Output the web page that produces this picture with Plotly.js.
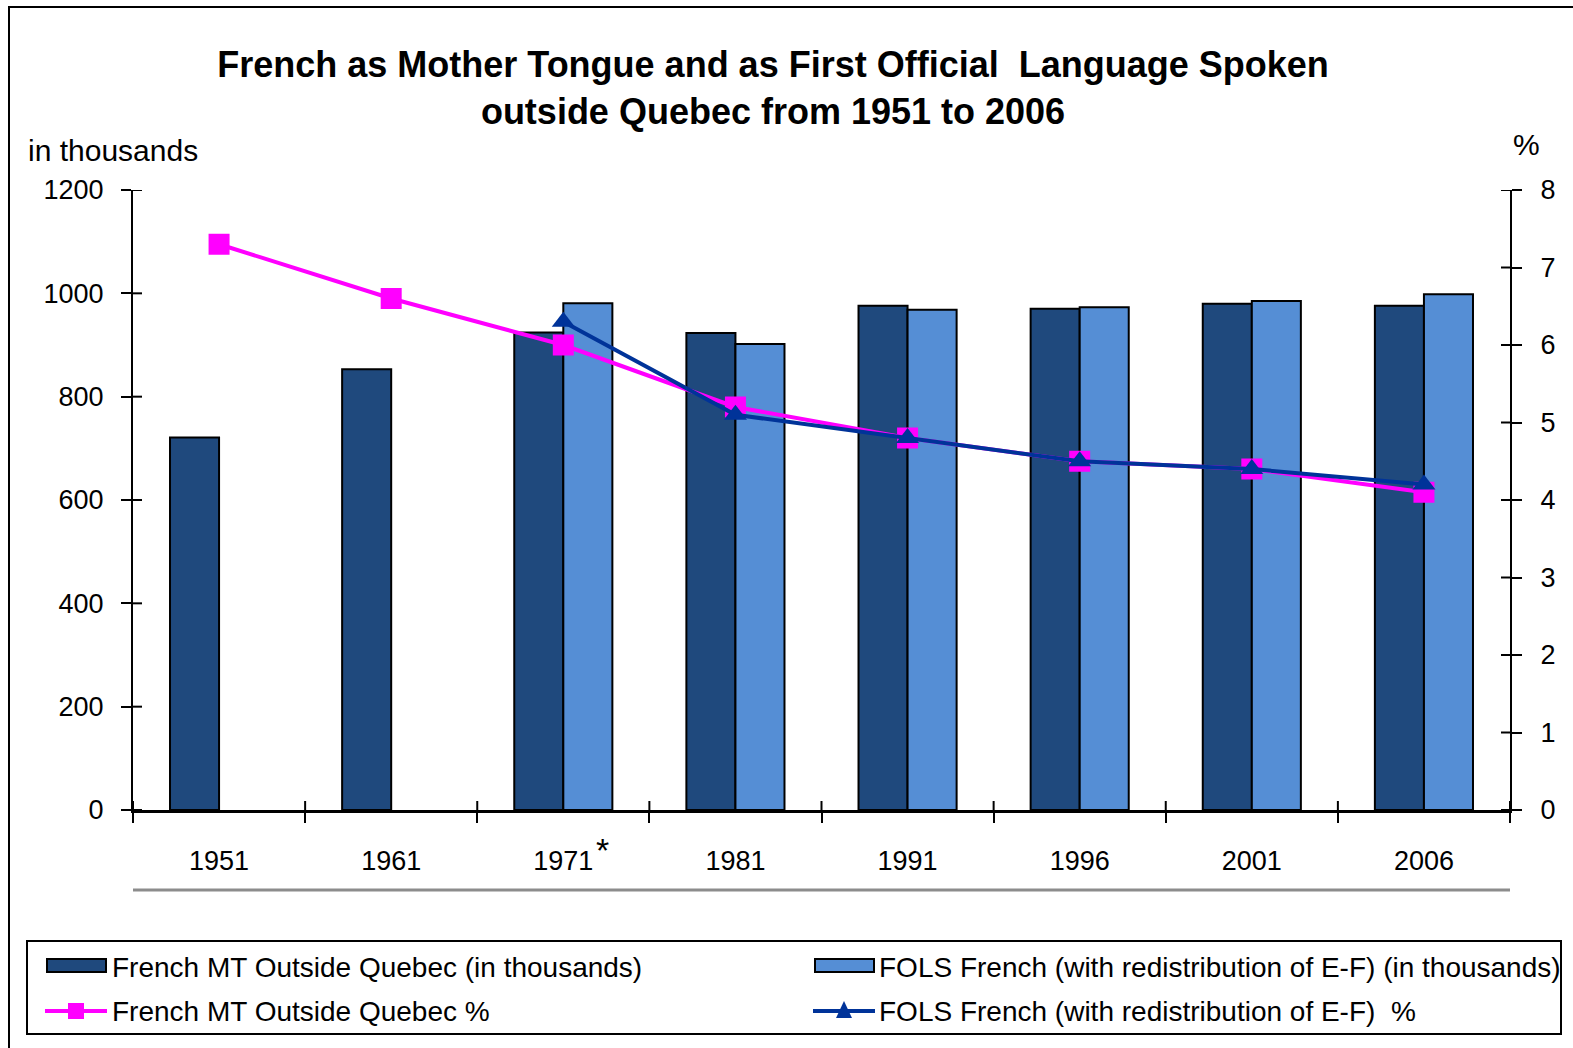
<!DOCTYPE html>
<html>
<head>
<meta charset="utf-8">
<script src="https://cdn.plot.ly/plotly-3.0.1.min.js"></script>
<style>html,body{margin:0;padding:0;background:#fff;}#chart{width:1573px;height:1048px;}</style>
</head>
<body>
<div id="chart"></div>
<script>
// ---- data ----
const years = ['1951', '1961', '1971', '1981', '1991', '1996', '2001', '2006'];
const yearLabels = ['1951', '1961', '1971', '1981', '1991', '1996', '2001', '2006'];
const mtThousands = [721, 853, 924, 923, 976, 970, 980, 976];
const folsThousands = [null, null, 981, 902, 968, 973, 985, 998];
const mtPercent = [7.3, 6.6, 6.0, 5.2, 4.8, 4.5, 4.4, 4.1];
const folsPercent = [null, null, 6.3, 5.1, 4.8, 4.5, 4.4, 4.2];
const seriesNames = [
  'French MT Outside Quebec (in thousands)',
  'FOLS French (with redistribution of E-F) (in thousands)',
  'French MT Outside Quebec %',
  'FOLS French (with redistribution of E-F)  %'
];
const leftTicks = [0, 200, 400, 600, 800, 1000, 1200];
const rightTicks = [0, 1, 2, 3, 4, 5, 6, 7, 8];

// ---- style ----
const FONT = 'Liberation Sans, Arial, sans-serif';
const C_MT = '#1F497D', C_FOLS = '#558ED5', C_MTP = '#FF00FF', C_FOLSP = '#003399';
const W = 1573, H = 1048;
const L = 133, R = 1510, T = 190, B = 810;
const px = x => (x - L) / (R - L);
const py = y => (B - y) / (B - T);
const boundaries = years.map((_, i) => i - 0.5).concat([years.length - 0.5]);
const IN_TICK = 9;

const traces = [
  {type: 'bar', name: seriesNames[0], x: years, y: mtThousands, xaxis: 'x', yaxis: 'y',
   marker: {color: C_MT, line: {color: '#000', width: 2}}, showlegend: false, hoverinfo: 'x+y'},
  {type: 'bar', name: seriesNames[1], x: years, y: folsThousands, xaxis: 'x', yaxis: 'y',
   marker: {color: C_FOLS, line: {color: '#000', width: 2}}, showlegend: false, hoverinfo: 'x+y'},
  {type: 'scatter', mode: 'lines+markers', name: seriesNames[2], x: years, y: mtPercent, xaxis: 'x', yaxis: 'y2',
   line: {color: C_MTP, width: 4}, marker: {symbol: 'square', size: 21, color: C_MTP}, showlegend: false},
  {type: 'scatter', mode: 'lines+markers', name: seriesNames[3], x: years, y: folsPercent, xaxis: 'x', yaxis: 'y2',
   line: {color: C_FOLSP, width: 4}, marker: {symbol: 'triangle-up', size: 20, color: C_FOLSP}, showlegend: false}
];

const shapes = [
  // outer frame
  {type: 'rect', xref: 'paper', yref: 'paper', x0: px(9), x1: px(1590), y0: py(7), y1: py(1070),
   line: {color: '#000', width: 2}, fillcolor: 'rgba(0,0,0,0)', layer: 'below'},
  // grey separator under the year labels
  {type: 'line', xref: 'paper', yref: 'paper', x0: 0, x1: 1, y0: py(890), y1: py(890),
   line: {color: '#8c8c8c', width: 3}},
  // legend box
  {type: 'rect', xref: 'paper', yref: 'paper', x0: px(27), x1: px(1561), y0: py(941), y1: py(1034),
   line: {color: '#000', width: 2}, fillcolor: 'rgba(0,0,0,0)'},
  {type: 'rect', xref: 'paper', yref: 'paper', x0: px(47), x1: px(106), y0: py(959), y1: py(972),
   line: {color: '#000', width: 2}, fillcolor: C_MT},
  {type: 'rect', xref: 'paper', yref: 'paper', x0: px(815), x1: px(874), y0: py(959), y1: py(972),
   line: {color: '#000', width: 2}, fillcolor: C_FOLS},
  {type: 'line', xref: 'paper', yref: 'paper', x0: px(45), x1: px(107), y0: py(1011), y1: py(1011),
   line: {color: C_MTP, width: 4}},
  {type: 'rect', xref: 'paper', yref: 'paper', x0: px(68), x1: px(84), y0: py(1003), y1: py(1019),
   line: {width: 0}, fillcolor: C_MTP},
  {type: 'line', xref: 'paper', yref: 'paper', x0: px(813), x1: px(875), y0: py(1011), y1: py(1011),
   line: {color: C_FOLSP, width: 4}},
  {type: 'path', xref: 'paper', yref: 'paper',
   path: `M ${px(844)} ${py(1001)} L ${px(852)} ${py(1018)} L ${px(836)} ${py(1018)} Z`,
   line: {width: 0}, fillcolor: C_FOLSP}
];
// inner halves of the crossing tick marks, placed through the axes' own scales
leftTicks.forEach(v => shapes.push({type: 'line', xref: 'paper', yref: 'y', x0: 0, x1: IN_TICK / (R - L),
  y0: v, y1: v, line: {color: '#000', width: 2}}));
rightTicks.forEach(v => shapes.push({type: 'line', xref: 'paper', yref: 'y2', x0: 1 - IN_TICK / (R - L), x1: 1,
  y0: v, y1: v, line: {color: '#000', width: 2}}));
boundaries.forEach(v => shapes.push({type: 'line', xref: 'x', yref: 'paper', x0: v, x1: v,
  y0: 0, y1: IN_TICK / (B - T), line: {color: '#000', width: 2}}));

const legText = (txt, x, y) => ({text: txt, xref: 'paper', yref: 'paper', x: px(x), y: py(y),
  xanchor: 'left', yanchor: 'middle', showarrow: false, font: {family: FONT, size: 28, color: '#000'}});

const annotations = [
  {text: 'in thousands', xref: 'paper', yref: 'paper', x: px(26), y: py(151), xanchor: 'left', yanchor: 'middle',
   showarrow: false, font: {family: FONT, size: 30, color: '#000'}},
  {text: '%', xref: 'paper', yref: 'paper', x: px(1526), y: py(144), xanchor: 'center', yanchor: 'middle',
   showarrow: false, font: {family: FONT, size: 30, color: '#000'}},
  {text: '*', xref: 'paper', yref: 'paper', x: px(602), y: py(850), xanchor: 'center', yanchor: 'middle',
   showarrow: false, font: {family: FONT, size: 34, color: '#000'}},
  legText(seriesNames[0], 110, 967),
  legText(seriesNames[1], 877, 967),
  legText(seriesNames[2], 110, 1012),
  legText(seriesNames[3], 877, 1012)
];

const layout = {
  width: W, height: H,
  margin: {l: L, r: W - R, t: T, b: H - B, pad: 0},
  paper_bgcolor: '#fff', plot_bgcolor: '#fff',
  font: {family: FONT, size: 27, color: '#000'},
  title: {text: '<b>French as Mother Tongue and as First Official  Language Spoken<br>outside Quebec from 1951 to 2006</b>',
          font: {family: FONT, size: 36, color: '#000'}, x: 773 / W, xref: 'container', xanchor: 'center',
          y: 1 - 77 / H, yref: 'container', yanchor: 'middle'},
  barmode: 'group', bargap: 0.43, bargroupgap: 0,
  showlegend: false,
  xaxis: {type: 'category', tickvals: years, ticktext: yearLabels, tickson: 'boundaries',
          ticks: 'outside', ticklen: 10, tickwidth: 2, tickcolor: '#000',
          showline: true, linecolor: '#000', linewidth: 3, showgrid: false, zeroline: false,
          tickfont: {family: FONT, size: 27}, ticklabelstandoff: 25, range: [-0.5, 7.5], fixedrange: true},
  yaxis: {range: [0, 1200], tickvals: leftTicks, ticks: 'outside', ticklen: 10, tickwidth: 2, tickcolor: '#000',
          showline: true, linecolor: '#000', linewidth: 2, showgrid: false, zeroline: false,
          tickfont: {family: FONT, size: 27}, ticklabelstandoff: 12},
  yaxis2: {overlaying: 'y', side: 'right', anchor: 'x', range: [0, 8], tickvals: rightTicks,
           ticks: 'outside', ticklen: 10, tickwidth: 2, tickcolor: '#000',
           showline: true, linecolor: '#000', linewidth: 2, showgrid: false, zeroline: false,
           tickfont: {family: FONT, size: 27}, ticklabelstandoff: 13},
  shapes: shapes,
  annotations: annotations
};

Plotly.newPlot('chart', traces, layout, {displayModeBar: false, staticPlot: true});
</script>
</body>
</html>
